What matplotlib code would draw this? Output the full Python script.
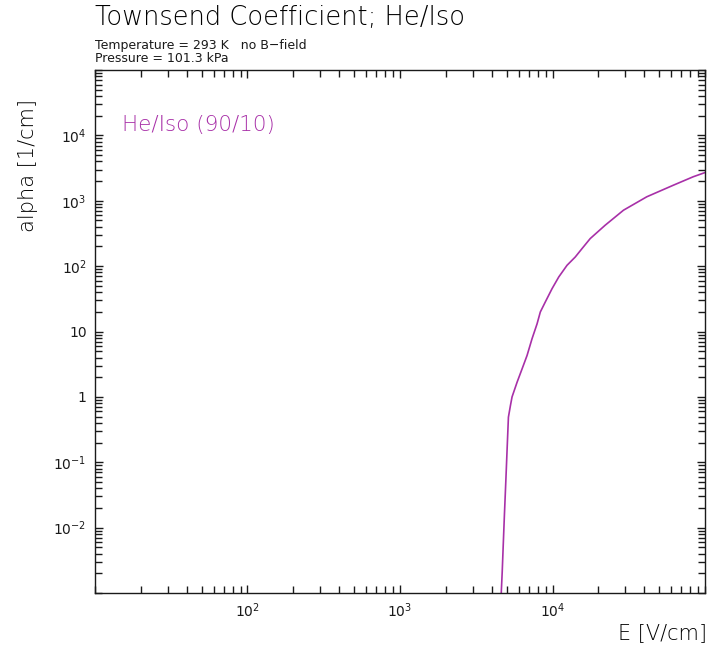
import matplotlib
matplotlib.use('Agg')
import matplotlib.pyplot as plt
from matplotlib.ticker import FixedLocator, FixedFormatter, LogLocator, NullFormatter

# Townsend coefficient He/Iso (90/10)
field = [4550, 4680, 4750, 4840, 4940, 5040, 5140, 5300, 5430, 5860, 6320,
         6810, 7340, 7920, 8320, 8970, 9930, 10990, 12450, 14100, 15600,
         17670, 22130, 29200, 41500, 62000, 83700, 100000]
alpha = [5e-4, 2.1e-3, 5.2e-3, 0.016, 0.05, 0.16, 0.49, 0.74, 1.0, 1.68, 2.69,
         4.3, 7.74, 13.1, 19.9, 28.3, 45.2, 68.3, 103, 138, 185,
         264, 422, 717, 1150, 1730, 2330, 2700]

xticks = [1e2, 1e3, 1e4]
xlabels = [r'$\mathdefault{10^{2}}$', r'$\mathdefault{10^{3}}$', r'$\mathdefault{10^{4}}$']
yticks = [1e-2, 1e-1, 1, 10, 1e2, 1e3, 1e4]
ylabels = [r'$\mathdefault{10^{-2}}$', r'$\mathdefault{10^{-1}}$', '1', '10',
           r'$\mathdefault{10^{2}}$', r'$\mathdefault{10^{3}}$', r'$\mathdefault{10^{4}}$']

purple = '#a830a8'
ink = '#000000'

fig = plt.figure(figsize=(7.13, 6.52), dpi=100)
ax = fig.add_axes([0.1332, 0.0905, 0.8556, 0.8021])

ax.plot(field, alpha, color=purple, linewidth=1.2)

ax.set_xscale('log')
ax.set_yscale('log')
ax.set_xlim(10, 1e5)
ax.set_ylim(1e-3, 1e5)

ax.xaxis.set_major_locator(FixedLocator(xticks))
ax.xaxis.set_major_formatter(FixedFormatter(xlabels))
ax.yaxis.set_major_locator(FixedLocator(yticks))
ax.yaxis.set_major_formatter(FixedFormatter(ylabels))
for axis in (ax.xaxis, ax.yaxis):
    axis.set_minor_locator(LogLocator(base=10, subs=range(1, 10), numticks=20))
    axis.set_minor_formatter(NullFormatter())

ax.tick_params(which='both', direction='in', top=True, right=True,
               colors='#1a1a1a', labelsize=10, width=1.0)
ax.tick_params(which='major', length=6, pad=6)
ax.tick_params(which='minor', length=5)
for s in ax.spines.values():
    s.set_linewidth(1.0)
    s.set_color('#1a1a1a')

ax.text(0.045, 0.895, 'He/Iso (90/10)', transform=ax.transAxes, color=purple,
        fontsize=15.5, fontweight='light', va='center', ha='left')

fig.text(95 / 713, 1 - 18 / 652, 'Townsend Coefficient; He/Iso', fontsize=18.5,
         fontweight='light', color=ink, ha='left', va='center')
fig.text(95 / 713, 1 - 45 / 652, 'Temperature = 293 K   no B\u2212field', fontsize=9,
         color='#1a1a1a', ha='left', va='center')
fig.text(95 / 713, 1 - 59 / 652, 'Pressure = 101.3 kPa', fontsize=9,
         color='#1a1a1a', ha='left', va='center')

fig.text(28 / 713, 1 - 165 / 652, 'alpha [1/cm]', fontsize=15, fontweight='light',
         color=ink, rotation=90, ha='center', va='center')
fig.text(707 / 713, 1 - 633 / 652, 'E [V/cm]', fontsize=15, fontweight='light',
         color=ink, ha='right', va='center')

fig.savefig('out.png', dpi=100)
